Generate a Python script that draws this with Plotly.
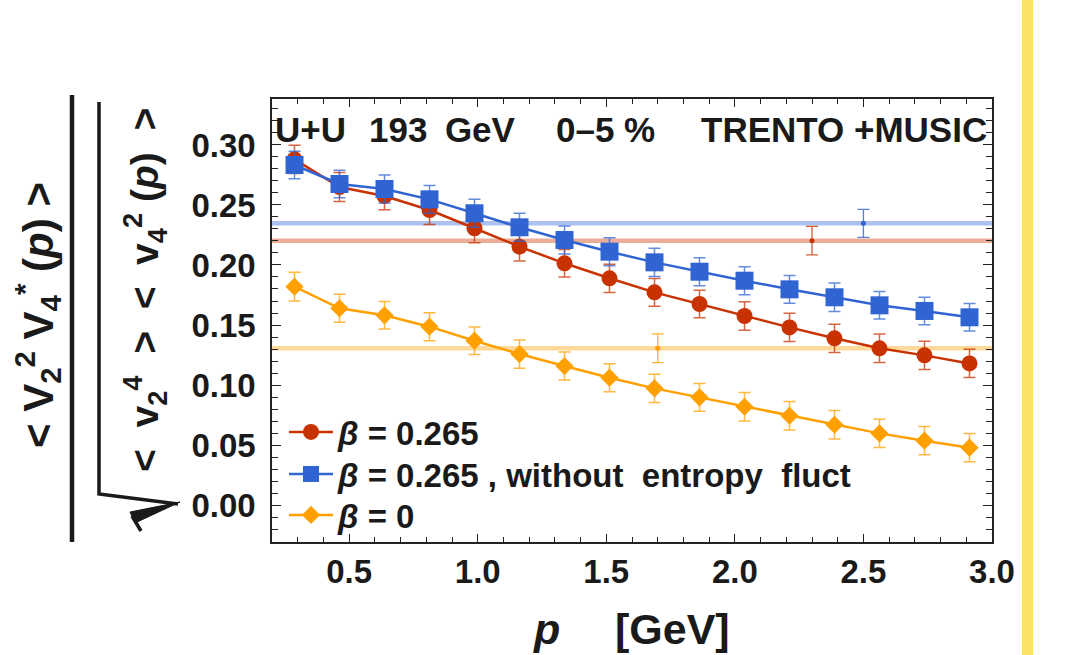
import plotly.graph_objects as go

# ---------------- data ----------------
p_centers = [0.2875, 0.4625, 0.6375, 0.8125, 0.9875, 1.1625, 1.3375, 1.5125,
             1.6875, 1.8625, 2.0375, 2.2125, 2.3875, 2.5625, 2.7375, 2.9125]

red_vals = [0.288, 0.265, 0.2575, 0.2458, 0.2306, 0.2153, 0.2014, 0.1889,
            0.1772, 0.1675, 0.1575, 0.148, 0.1389, 0.1306, 0.1247, 0.118]
red_err = [0.0117, 0.012, 0.0115, 0.012, 0.012, 0.012, 0.0115, 0.0118,
           0.0115, 0.0115, 0.0118, 0.0118, 0.0118, 0.0118, 0.0118, 0.0117]

blue_vals = [0.2833, 0.2675, 0.2633, 0.2547, 0.2431, 0.2314, 0.2208, 0.2111,
             0.2022, 0.1944, 0.1869, 0.1797, 0.1731, 0.1664, 0.1617, 0.1564]
blue_err = [0.0115, 0.0115, 0.0117, 0.0115, 0.0117, 0.0117, 0.0117, 0.0117,
            0.0118, 0.0117, 0.0117, 0.0115, 0.0118, 0.0115, 0.0115, 0.0115]

orange_vals = [0.1819, 0.1639, 0.1581, 0.1486, 0.1369, 0.1258, 0.1158, 0.1061,
               0.0972, 0.0897, 0.0819, 0.0744, 0.0669, 0.0597, 0.0536, 0.0478]
orange_err = [0.012, 0.0117, 0.0115, 0.0117, 0.0115, 0.0118, 0.0117, 0.0117,
              0.0117, 0.0115, 0.0118, 0.0118, 0.0118, 0.0118, 0.0118, 0.0117]

# reference (experimental) values: horizontal bands + single point
ref_names = ["red", "blue", "orange"]
ref_vals = [0.2203, 0.2347, 0.1306]
ref_err = [0.0118, 0.0117, 0.012]
ref_p = [2.30, 2.50, 1.70]

x_range = [0.2, 3.0]
y_range = [-0.0308, 0.3383]
x_ticks = [0.5, 1.0, 1.5, 2.0, 2.5, 3.0]
y_ticks = [0.00, 0.05, 0.10, 0.15, 0.20, 0.25, 0.30]

legend_labels = ["<i>β</i> = 0.265",
                 "<i>β</i> = 0.265 , without\u00a0 entropy\u00a0 fluct",
                 "<i>β</i> = 0"]

# ---------------- style ----------------
COL = {"red": "#C83200", "blue": "#3064D2", "orange": "#FFA000"}
FONT = "Liberation Sans, Arial, Helvetica, sans-serif"
TXT = "#1a1a1a"

W, H = 1070, 655
L, R, T, B = 272, 992, 99, 542


def px2x(px):
    return (px - L) / (R - L)


def px2y(py):
    return (B - py) / (B - T)


def rgba(hexc, a):
    h = hexc.lstrip("#")
    r, g, b = int(h[0:2], 16), int(h[2:4], 16), int(h[4:6], 16)
    return f"rgba({r},{g},{b},{a})"


fig = go.Figure()

# horizontal reference bands
for name, v in zip(ref_names, ref_vals):
    fig.add_trace(go.Scatter(
        x=x_range, y=[v, v], mode="lines",
        line=dict(color=rgba(COL[name], 0.4), width=4.5),
        showlegend=False, hoverinfo="skip"))

# reference single points with error bars
for name, p, v, e in zip(ref_names, ref_p, ref_vals, ref_err):
    fig.add_trace(go.Scatter(
        x=[p], y=[v], mode="markers",
        marker=dict(color=COL[name], size=5),
        error_y=dict(type="data", array=[e], color=rgba(COL[name], 0.8),
                     thickness=1.3, width=6),
        showlegend=False, hoverinfo="skip"))

series = [
    ("red", red_vals, red_err, "circle", 16, legend_labels[0], "legend"),
    ("blue", blue_vals, blue_err, "square", 18, legend_labels[1], "legend2"),
    ("orange", orange_vals, orange_err, "diamond", 14, legend_labels[2], "legend3"),
]
for name, vals, errs, sym, size, lab, lg in series:
    fig.add_trace(go.Scatter(
        x=p_centers, y=vals, mode="lines+markers", name=lab, legend=lg,
        line=dict(color=COL[name], width=2.5),
        marker=dict(color=COL[name], symbol=sym, size=size, line=dict(width=0)),
        error_y=dict(type="data", array=errs, color=rgba(COL[name], 0.75),
                     thickness=1.5, width=6)))

axis_common = dict(
    showline=True, linecolor="#222222", linewidth=1.5, mirror="ticks",
    ticks="inside", tickcolor="#222222", tickwidth=1.2,
    showgrid=False, zeroline=False,
    tickfont=dict(family=FONT, size=33, color=TXT, weight="bold"),
)

fig.update_xaxes(
    range=x_range, tickvals=x_ticks, ticktext=[f"{t:.1f}" for t in x_ticks],
    ticklen=8, ticklabelstandoff=0,
    minor=dict(dtick=0.1, tick0=0.0, ticks="inside", ticklen=5,
               tickcolor="#222222", tickwidth=1.0),
    **axis_common)
fig.update_yaxes(
    range=y_range, tickvals=y_ticks, ticktext=[f"{t:.2f}" for t in y_ticks],
    ticklen=9, ticklabelstandoff=8,
    minor=dict(dtick=0.01, tick0=0.0, ticks="inside", ticklen=6,
               tickcolor="#222222", tickwidth=1.0),
    **axis_common)

annotations = []
bold = dict(family=FONT, color=TXT, weight="bold")

# top label pieces
for txt, xl in [("U+U", 273), ("193\u2002GeV", 367), ("0–5 %", 554),
                ("TRENTO +MUSIC", 699)]:
    annotations.append(dict(
        text=txt, x=px2x(xl), y=px2y(129), xref="paper", yref="paper",
        xanchor="left", yanchor="middle", showarrow=False,
        font=dict(size=35, **bold)))

# x axis title
annotations.append(dict(text="<i>p</i>", x=px2x(546), y=px2y(629),
                        xref="paper", yref="paper", xanchor="center",
                        yanchor="middle", showarrow=False,
                        font=dict(size=43, **bold)))
annotations.append(dict(text="[GeV]", x=px2x(672), y=px2y(629),
                        xref="paper", yref="paper", xanchor="center",
                        yanchor="middle", showarrow=False,
                        font=dict(size=43, **bold)))

# y axis title (fraction)
num = ("&lt; V<sub>2</sub><sup>2</sup> V<sub>4</sub><sup>*</sup>"
       " (<i>p</i>) &gt;")
den = ("&lt;\u00a0 v<sub>2</sub><sup>4</sup>\u00a0 &gt;\u00a0 &lt;\u00a0 "
       "v<sub>4</sub><sup>2</sup>\u00a0(<i>p</i>)\u00a0 &gt;")
annotations.append(dict(text=num, x=px2x(37), y=px2y(315), xref="paper",
                        yref="paper", xanchor="center", yanchor="middle",
                        textangle=-90, showarrow=False,
                        font=dict(size=42, **bold)))
annotations.append(dict(text=den, x=px2x(145), y=px2y(290), xref="paper",
                        yref="paper", xanchor="center", yanchor="middle",
                        textangle=-90, showarrow=False,
                        font=dict(size=39, **bold)))

shapes = []
# fraction bar
shapes.append(dict(type="line", xref="paper", yref="paper",
                   x0=px2x(72), x1=px2x(72), y0=px2y(95), y1=px2y(542),
                   line=dict(color=TXT, width=4.5)))
# radical sign
shapes.append(dict(type="path", xref="paper", yref="paper",
                   path=(f"M{px2x(99)},{px2y(102)} L{px2x(99)},{px2y(494)} "
                         f"L{px2x(178)},{px2y(504)}"),
                   line=dict(color=TXT, width=3.5)))
shapes.append(dict(type="path", xref="paper", yref="paper",
                   path=(f"M{px2x(180)},{px2y(502)} L{px2x(130)},{px2y(512)} "
                         f"L{px2x(135)},{px2y(523)} Z"),
                   fillcolor=TXT, line=dict(color=TXT, width=1)))
shapes.append(dict(type="line", xref="paper", yref="paper",
                   x0=px2x(132), y0=px2y(516), x1=px2x(141), y1=px2y(531),
                   line=dict(color=TXT, width=3.5)))
# yellow bar at right
shapes.append(dict(type="rect", xref="paper", yref="paper",
                   x0=px2x(1022), x1=px2x(1033), y0=px2y(H + 5), y1=px2y(-5),
                   fillcolor="#FDE26A", line=dict(width=0), layer="below"))


def legend_at(py):
    return dict(x=px2x(284), y=px2y(py), xanchor="left", yanchor="middle",
                bgcolor="rgba(0,0,0,0)", borderwidth=0, itemwidth=44,
                font=dict(family=FONT, size=33, color=TXT, weight="bold"))


fig.update_layout(
    width=W, height=H,
    margin=dict(l=L, r=W - R, t=T, b=H - B, autoexpand=False),
    paper_bgcolor="white", plot_bgcolor="white",
    showlegend=True,
    legend=legend_at(432),
    legend2=legend_at(474),
    legend3=legend_at(515),
    annotations=annotations, shapes=shapes,
)

fig.write_html("out.html")
